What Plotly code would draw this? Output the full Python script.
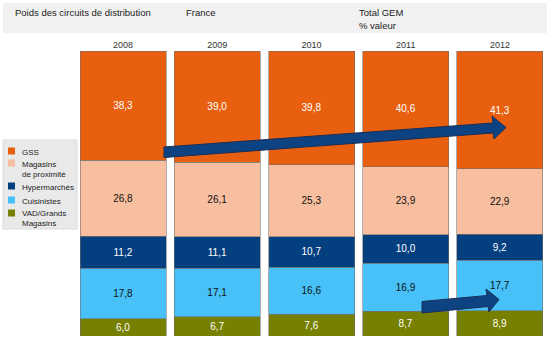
import plotly.graph_objects as go

years = ["2008", "2009", "2010", "2011", "2012"]
series_names = ["VAD/Grands<br>Magasins", "Cuisinistes", "Hypermarchés", "Magasins<br>de proximité", "GSS"]
vad = [6.0, 6.7, 7.6, 8.7, 8.9]
cuisinistes = [17.8, 17.1, 16.6, 16.9, 17.7]
hyper = [11.2, 11.1, 10.7, 10.0, 9.2]
proximite = [26.8, 26.1, 25.3, 23.9, 22.9]
gss = [38.3, 39.0, 39.8, 40.6, 41.3]
series_values = [vad, cuisinistes, hyper, proximite, gss]
colors = ["#778000", "#47C1F7", "#043F80", "#F8BEA0", "#E8600F"]
text_colors = ["white", "#111111", "white", "#111111", "white"]

W, H = 550, 339
L, R, T, B = 76, 547, 51, 336
FONT = "Liberation Sans, Arial, sans-serif"


def px(x):
    return (x - L) / (R - L)


def py(y):
    return (B - y) / (B - T)


fig = go.Figure()
for name, vals, col, tcol in zip(series_names, series_values, colors, text_colors):
    fig.add_trace(go.Bar(
        x=years, y=vals, name=name,
        marker=dict(color=col, line=dict(color="rgba(110,110,110,0.7)", width=0.8)),
        text=[f"{v:.1f}".replace(".", ",") for v in vals],
        textposition="inside", insidetextanchor="middle", textangle=0,
        constraintext="none",
        textfont=dict(color=tcol, size=10, family=FONT),
        showlegend=False, hoverinfo="skip",
    ))

shapes = []
annotations = []

# header band
shapes.append(dict(type="rect", xref="paper", yref="paper", x0=px(3), x1=px(547), y0=py(3), y1=py(33),
                   fillcolor="#f1f1f1", line=dict(width=0), layer="below"))
for txt, x, y in [("Poids des circuits de distribution", 13, 12), ("France", 184, 12),
                  ("Total GEM", 357, 12), ("% valeur", 357, 26)]:
    annotations.append(dict(text=txt, x=px(x), y=py(y), xref="paper", yref="paper", xanchor="left",
                            yanchor="middle", showarrow=False, font=dict(size=9.5, color="#222", family=FONT)))

# custom legend
shapes.append(dict(type="rect", xref="paper", yref="paper", x0=px(3), x1=px(77), y0=py(140), y1=py(229),
                   fillcolor="#e9e9e9", line=dict(color="#dcdcdc", width=1)))
legend_y = [151, 163, 186, 200, 213]
for name, col, ly in zip(reversed(series_names), reversed(colors), legend_y):
    shapes.append(dict(type="rect", xref="paper", yref="paper", x0=px(8), x1=px(15), y0=py(ly - 3.5),
                       y1=py(ly + 3.5), fillcolor=col, line=dict(width=0)))
    annotations.append(dict(text=name, x=px(20), y=py(ly - 5.5), xref="paper", yref="paper", xanchor="left",
                            yanchor="top", align="left", showarrow=False,
                            font=dict(size=8, color="#222", family=FONT)))


def arrow_path(pts):
    return "M " + " L ".join(f"{px(x)},{py(y)}" for x, y in pts) + " Z"


big_arrow = [(164, 147), (493, 123), (492, 116), (506, 127.5), (494, 139), (493, 133), (164, 157.5)]
small_arrow = [(422, 301.5), (487, 295.5), (486, 289), (499, 299.5), (489, 312), (488, 306.5), (422, 313)]
for pts in (big_arrow, small_arrow):
    shapes.append(dict(type="path", xref="paper", yref="paper", path=arrow_path(pts),
                       fillcolor="#0D4383", line=dict(color="#1B2E55", width=1)))

fig.update_layout(
    width=W, height=H,
    margin=dict(l=L, r=W - R, t=T, b=H - B),
    barmode="stack", bargap=0.087,
    paper_bgcolor="white", plot_bgcolor="white",
    xaxis=dict(side="top", showgrid=False, zeroline=False, showline=False, ticks="",
               tickfont=dict(size=9, color="#333", family=FONT), range=[-0.5, 4.5]),
    yaxis=dict(visible=False, range=[0, 100.1], fixedrange=True),
    shapes=shapes, annotations=annotations,
    font=dict(family=FONT),
)

fig.write_html("out.html")
